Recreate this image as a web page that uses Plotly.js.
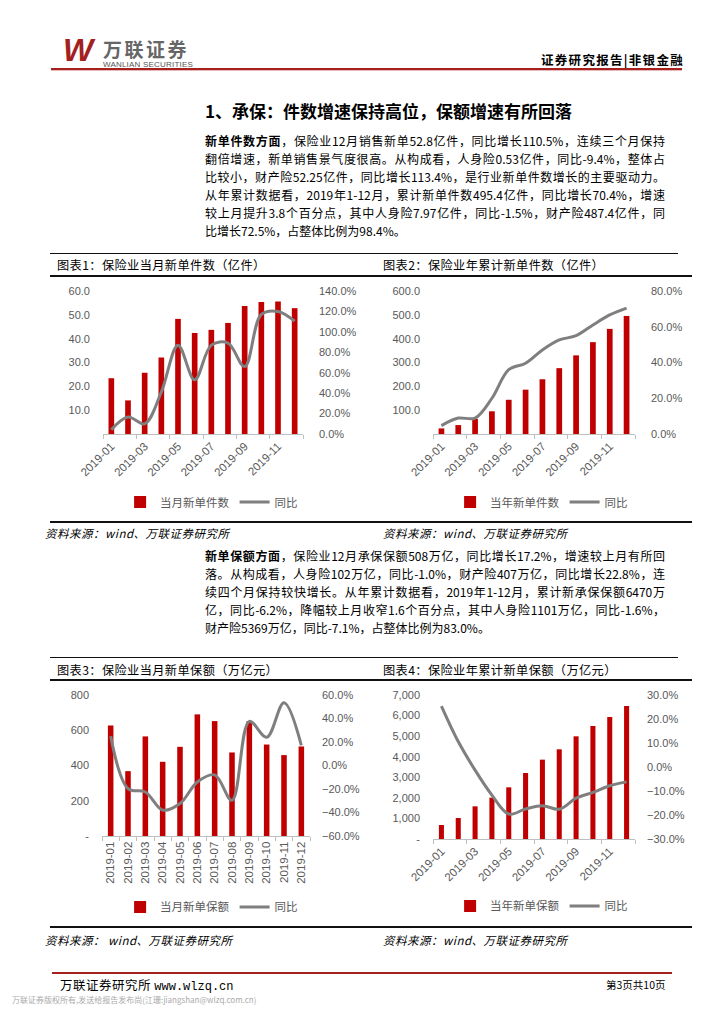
<!DOCTYPE html>
<html><head><meta charset="utf-8">
<script src="https://cdn.plot.ly/plotly-3.0.1.min.js"></script>
<style>
html,body{margin:0;padding:0;background:#fff}
body{width:724px;height:1024px;position:relative;overflow:hidden;font-family:"Noto Sans CJK SC","Noto Sans",sans-serif;color:#000}
.abs{position:absolute;white-space:nowrap}
.hl{position:absolute;height:0;border-top:2px solid #111}
.para{position:absolute;left:205px;width:460px;font-size:12px}
.para div{height:18px;line-height:18px;text-align:justify;text-align-last:justify}
.para div.last{text-align-last:left}
.ctitle{position:absolute;font-size:12.2px;letter-spacing:0.4px;line-height:16px}
.src{position:absolute;font-size:11.5px;font-style:italic;letter-spacing:0.5px;line-height:14px}
.chart{position:absolute}
</style></head>
<body>
<!-- header -->
<div class="abs" style="left:63px;top:32px;font-family:'Liberation Sans',sans-serif;font-weight:bold;font-style:italic;font-size:32px;color:#A3201F;line-height:36px;letter-spacing:-2px">W</div>
<div class="abs" style="left:103px;top:39px;font-size:19px;font-weight:bold;color:#666;letter-spacing:2.5px;line-height:20px">万联证券</div>
<div class="abs" style="left:103px;top:61px;font-family:'Liberation Sans',sans-serif;font-size:8px;color:#555;line-height:8px;letter-spacing:0.2px">WANLIAN SECURITIES</div>
<div class="abs" style="left:541px;top:52px;font-size:12.5px;font-weight:bold;letter-spacing:1.3px;line-height:16px">证券研究报告|非银金融</div>
<div class="abs" style="left:51px;top:68px;width:631px;height:2px;background:#A6201E"></div>
<div class="abs" style="left:51px;top:70px;width:631px;height:1px;background:#E8B8B8"></div>

<!-- section title -->
<div class="abs" style="left:205px;top:100px;font-size:17px;font-weight:bold;line-height:22px">1、承保：件数增速保持高位，保额增速有所回落</div>

<div class="para" style="top:132px">
<div><b>新单件数方面</b>，保险业12月销售新单52.8亿件，同比增长110.5%，连续三个月保持</div>
<div>翻倍增速，新单销售景气度很高。从构成看，人身险0.53亿件，同比-9.4%，整体占</div>
<div>比较小，财产险52.25亿件，同比增长113.4%，是行业新单件数增长的主要驱动力。</div>
<div>从年累计数据看，2019年1-12月，累计新单件数495.4亿件，同比增长70.4%，增速</div>
<div>较上月提升3.8个百分点，其中人身险7.97亿件，同比-1.5%，财产险487.4亿件，同</div>
<div class="last">比增长72.5%，占整体比例为98.4%。</div>
</div>

<div class="hl" style="left:50px;top:253px;width:628px;border-top-width:1.5px"></div>
<div class="ctitle" style="left:57px;top:257px">图表1：保险业当月新单件数（亿件）</div>
<div class="ctitle" style="left:383px;top:257px">图表2：保险业年累计新单件数（亿件）</div>
<div class="hl" style="left:50px;top:275px;width:642px"></div>
<div id="c1" class="chart" style="left:40px;top:278px;width:330px;height:242px"></div>
<div id="c2" class="chart" style="left:370px;top:278px;width:330px;height:242px"></div>
<div class="hl" style="left:50px;top:521px;width:642px"></div>
<div class="src" style="left:45px;top:526px">资料来源：wind、万联证券研究所</div>
<div class="src" style="left:383px;top:526px">资料来源：wind、万联证券研究所</div>

<div class="para" style="top:547px">
<div><b>新单保额方面</b>，保险业12月承保保额508万亿，同比增长17.2%，增速较上月有所回</div>
<div>落。从构成看，人身险102万亿，同比-1.0%，财产险407万亿，同比增长22.8%，连</div>
<div>续四个月保持较快增长。从年累计数据看，2019年1-12月，累计新承保保额6470万</div>
<div>亿，同比-6.2%，降幅较上月收窄1.6个百分点，其中人身险1101万亿，同比-1.6%，</div>
<div class="last">财产险5369万亿，同比-7.1%，占整体比例为83.0%。</div>
</div>

<div class="hl" style="left:50px;top:657px;width:628px;border-top-width:1.5px"></div>
<div class="ctitle" style="left:57px;top:662px">图表3：保险业当月新单保额（万亿元）</div>
<div class="ctitle" style="left:383px;top:662px">图表4：保险业年累计新单保额（万亿元）</div>
<div class="hl" style="left:50px;top:679px;width:642px"></div>
<div id="c3" class="chart" style="left:40px;top:681px;width:330px;height:244px"></div>
<div id="c4" class="chart" style="left:370px;top:681px;width:330px;height:244px"></div>
<div class="hl" style="left:50px;top:926px;width:642px"></div>
<div class="src" style="left:45px;top:933px">资料来源： wind、万联证券研究所</div>
<div class="src" style="left:383px;top:933px">资料来源：wind、万联证券研究所</div>

<!-- footer -->
<div class="abs" style="left:52px;top:972px;width:620px;height:2px;background:#A6201E"></div>
<div class="abs" style="left:60px;top:977px;font-size:12.5px;line-height:15px;letter-spacing:0.5px">万联证券研究所 <span style="font-family:'Liberation Mono',monospace;font-size:12px;letter-spacing:0">www.wlzq.cn</span></div>
<div class="abs" style="left:606px;top:978px;font-size:10.5px;line-height:13px">第3页共10页</div>
<div class="abs" style="left:12px;top:995px;font-size:8px;line-height:10px;color:#aaa">万联证券版权所有,发送给报告发布尚(江珊:jiangshan@wlzq.com.cn)</div>

<script>
// ---- data ----
const months = ['2019-01','2019-02','2019-03','2019-04','2019-05','2019-06','2019-07','2019-08','2019-09','2019-10','2019-11','2019-12'];

// chart 1: monthly new policies (亿件) and YoY (%)
const monthlyPolicies = [23.4, 14.1, 25.7, 32.1, 48.3, 42.4, 43.7, 46.6, 53.7, 55.4, 55.6, 52.8];
const monthlyPoliciesYoy = [4.2, 16.6, 10.0, 41.0, 87.0, 53.0, 87.0, 89.0, 66.0, 117.0, 120.0, 110.5];

// chart 2: cumulative new policies (亿件) and YoY (%)
const cumPolicies = [23.4, 37.5, 63.2, 95.3, 143.6, 186.0, 229.7, 276.3, 330.0, 385.4, 441.0, 495.4];
const cumPoliciesYoy = [4.7, 8.9, 8.9, 20.0, 36.0, 39.6, 47.0, 52.6, 55.0, 61.0, 66.6, 70.4];

// chart 3: monthly new sum insured (万亿元) and YoY (%)
const monthlyInsured = [627, 368, 565, 421, 506, 690, 652, 474, 652, 519, 459, 508];
const monthlyInsuredYoy = [25.0, -19.6, -22.5, -38.0, -32.4, -14.0, -8.0, -29.6, 37.5, 24.0, 53.5, 17.2];

// chart 4: cumulative new sum insured (万亿元) and YoY (%)
const cumInsured = [680, 1020, 1588, 2010, 2512, 3209, 3857, 4360, 4992, 5494, 5932, 6470];
const cumInsuredYoy = [25.4, 10.6, -1.3, -11.7, -19.6, -17.5, -16.1, -17.6, -13.0, -10.6, -7.8, -6.2];

// tick labels
const c1LeftVals = [10,20,30,40,50,60];
const c1LeftText = ['10.0','20.0','30.0','40.0','50.0','60.0'];
const c2LeftVals = [100,200,300,400,500,600];
const c2LeftText = ['100.0','200.0','300.0','400.0','500.0','600.0'];
const c3LeftVals = [0,200,400,600,800];
const c3LeftText = ['-','200','400','600','800'];
const c4LeftVals = [0,1000,2000,3000,4000,5000,6000,7000];
const c4LeftText = ['-','1,000','2,000','3,000','4,000','5,000','6,000','7,000'];

const names = {
  c1: ['当月新单件数','同比'],
  c2: ['当年新单件数','同比'],
  c3: ['当月新单保额','同比'],
  c4: ['当年新单保额','同比']
};

const RED = '#C00000', GRAY = '#7F7F7F';
const baseFont = {family:'"Liberation Sans", Arial, sans-serif', size:11, color:'#595959'};

function makeChart(id, bars, yoy, nm, opt){
  const traces = [
    {type:'bar', x:months, y:bars, name:nm[0], marker:{color:RED}, yaxis:'y', hoverinfo:'skip'},
    {type:'scatter', mode:'lines', x:months, y:yoy, name:nm[1], yaxis:'y2',
     line:{color:GRAY, width:3, shape:'spline', smoothing:1}, hoverinfo:'skip'}
  ];
  const layout = {
    width:330, height:opt.h,
    margin:{l:opt.l, r:opt.r, t:opt.t, b:opt.b, pad:0},
    paper_bgcolor:'#fff', plot_bgcolor:'#fff',
    font:baseFont,
    bargap:opt.gap,
    showlegend:true,
    legend:{orientation:'h', xref:'container', x:opt.lx, xanchor:'center',
            yref:'container', y:opt.ly, yanchor:'middle',
            font:{family:'"Noto Sans CJK SC", sans-serif', size:11.5, color:'#595959'},
            itemwidth:30, traceorder:'normal', bgcolor:'rgba(0,0,0,0)'},
    xaxis:{type:'category', range:[-0.5,11.5], tickangle:opt.ta, dtick:opt.dtick,
           tickson:'boundaries', ticks:'outside', ticklen:4, tickcolor:'#BFBFBF',
           showline:true, linecolor:'#BFBFBF', linewidth:1, showgrid:false, zeroline:false,
           tickfont:Object.assign({}, baseFont, {size:opt.xf}), fixedrange:true, automargin:false},
    yaxis:{range:opt.yr, tickvals:opt.yv, ticktext:opt.yt, showgrid:false, zeroline:false,
           showline:false, ticks:'', ticklabelstandoff:opt.ls, tickfont:baseFont, fixedrange:true, automargin:false},
    yaxis2:{overlaying:'y', side:'right', range:opt.y2r, dtick:opt.y2d, tick0:0,
            tickformat:'.1f', ticksuffix:'%', showgrid:false, zeroline:false, showline:false,
            ticks:'', ticklabelstandoff:opt.rs, tickfont:baseFont, fixedrange:true, automargin:false}
  };
  Plotly.newPlot(id, traces, layout, {staticPlot:true, displayModeBar:false});
}

makeChart('c1', monthlyPolicies, monthlyPoliciesYoy, names.c1,
  {h:242, l:63, r:67, t:13, b:86, gap:0.66, lx:0.52, ly:0.074, ta:-45, dtick:2, xf:11.5,
   yr:[0,60], yv:c1LeftVals, yt:c1LeftText, y2r:[0,140], y2d:20, ls:12, rs:15});
makeChart('c2', cumPolicies, cumPoliciesYoy, names.c2,
  {h:242, l:63, r:65, t:13, b:86, gap:0.66, lx:0.52, ly:0.074, ta:-45, dtick:2, xf:11.5,
   yr:[0,600], yv:c2LeftVals, yt:c2LeftText, y2r:[0,80], y2d:20, ls:12, rs:15});
makeChart('c3', monthlyInsured, monthlyInsuredYoy, names.c3,
  {h:244, l:62, r:60, t:14, b:89, gap:0.68, lx:0.52, ly:0.074, ta:-90, dtick:1, xf:11.5,
   yr:[0,800], yv:c3LeftVals, yt:c3LeftText, y2r:[-60,60], y2d:20, ls:12, rs:11});
makeChart('c4', cumInsured, cumInsuredYoy, names.c4,
  {h:244, l:63, r:65, t:14, b:86, gap:0.7, lx:0.52, ly:0.078, ta:-45, dtick:2, xf:11.5,
   yr:[0,7000], yv:c4LeftVals, yt:c4LeftText, y2r:[-30,30], y2d:10, ls:12, rs:11});
</script>
</body></html>
